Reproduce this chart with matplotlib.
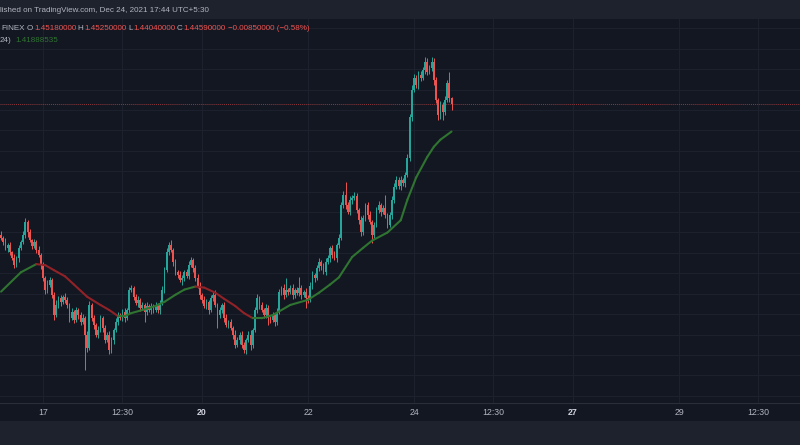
import numpy as np
import matplotlib
matplotlib.use('Agg')
import matplotlib.pyplot as plt
from matplotlib.collections import LineCollection

plt.rcParams['font.family'] = ['Liberation Sans', 'DejaVu Sans']

# ADA/USD 1h candles, Dec 16 05:00 -> Dec 24 17:00 (hours counted from Dec 17 00:00)
first_open = 1.318
closes = [
    1.315, 1.311, 1.305, 1.308, 1.301, 1.295, 1.288, 1.295, 1.305, 1.311,
    1.318, 1.330, 1.320, 1.313, 1.307, 1.311, 1.303, 1.298, 1.288, 1.275,
    1.264, 1.269, 1.273, 1.259, 1.239, 1.249, 1.256, 1.252, 1.257, 1.254,
    1.249, 1.236, 1.242, 1.234, 1.244, 1.239, 1.232, 1.236, 1.220, 1.207,
    1.249, 1.236, 1.229, 1.220, 1.224, 1.236, 1.226, 1.215, 1.220, 1.205,
    1.215, 1.224, 1.232, 1.239, 1.236, 1.242, 1.236, 1.244, 1.264, 1.266,
    1.257, 1.251, 1.254, 1.246, 1.249, 1.242, 1.248, 1.244, 1.248, 1.244,
    1.249, 1.244, 1.251, 1.264, 1.283, 1.301, 1.308, 1.303, 1.291, 1.281,
    1.278, 1.273, 1.275, 1.281, 1.277, 1.288, 1.293, 1.285, 1.275, 1.268,
    1.259, 1.254, 1.248, 1.252, 1.244, 1.256, 1.259, 1.249, 1.239, 1.244,
    1.249, 1.236, 1.229, 1.232, 1.226, 1.220, 1.210, 1.215, 1.220, 1.210,
    1.205, 1.215, 1.220, 1.210, 1.224, 1.244, 1.256, 1.249, 1.244, 1.239,
    1.246, 1.236, 1.234, 1.239, 1.232, 1.242, 1.262, 1.266, 1.259, 1.264,
    1.262, 1.266, 1.259, 1.264, 1.261, 1.266, 1.259, 1.262, 1.256, 1.254,
    1.268, 1.278, 1.275, 1.285, 1.291, 1.287, 1.281, 1.291, 1.295, 1.305,
    1.298, 1.295, 1.308, 1.315, 1.347, 1.357, 1.347, 1.340, 1.352, 1.354,
    1.356, 1.342, 1.332, 1.320, 1.334, 1.347, 1.337, 1.330, 1.318, 1.327,
    1.342, 1.347, 1.340, 1.344, 1.337, 1.327, 1.337, 1.352, 1.365, 1.371,
    1.366, 1.371, 1.368, 1.376, 1.393, 1.433, 1.460, 1.471, 1.465, 1.474,
    1.471, 1.479, 1.487, 1.477, 1.481, 1.487, 1.469, 1.450, 1.435, 1.445,
    1.438, 1.450, 1.466, 1.4518, 1.4459,
]
# upper / lower wick lengths beyond the body
wick_hi = [
    .003, .002, .004, .002, .003, .001, .004, .002, .003, .002,
    .003, .004, .002, .003, .001, .003, .002, .004, .002, .003,
    .002, .004, .003, .002, .003, .005, .002, .003, .002, .004,
    .003, .002, .004, .002, .003, .002, .003, .004, .002, .003,
    .004, .002, .003, .002, .004, .003, .002, .003, .002, .003,
    .003, .002, .004, .003, .002, .003, .004, .002, .003, .003,
    .002, .003, .004, .002, .003, .002, .004, .002, .003, .002,
    .003, .002, .003, .004, .003, .004, .003, .005, .002, .003,
    .002, .004, .003, .002, .003, .004, .003, .002, .003, .004,
    .003, .002, .004, .003, .002, .003, .004, .005, .002, .003,
    .002, .003, .004, .002, .003, .002, .004, .003, .002, .003,
    .003, .002, .003, .004, .002, .003, .004, .002, .003, .002,
    .004, .003, .002, .003, .002, .004, .003, .002, .004, .011,
    .002, .003, .004, .002, .003, .010, .003, .002, .004, .003,
    .003, .004, .002, .003, .004, .002, .003, .004, .003, .002,
    .003, .004, .002, .004, .003, .004, .012, .003, .004, .003,
    .004, .003, .002, .004, .003, .002, .003, .004, .002, .003,
    .003, .004, .002, .003, .013, .002, .003, .004, .003, .004,
    .003, .004, .002, .003, .004, .003, .005, .004, .003, .004,
    .004, .003, .005, .004, .003, .005, .004, .003, .002, .004,
    .003, .004, .003, .011, .0007,
]
wick_lo = [
    .002, .003, .002, .004, .003, .002, .003, .002, .004, .002,
    .002, .003, .004, .002, .003, .002, .003, .002, .004, .003,
    .004, .003, .002, .003, .005, .002, .003, .004, .002, .003,
    .003, .004, .002, .003, .002, .004, .003, .002, .035, .004,
    .002, .003, .004, .002, .003, .002, .004, .003, .002, .004,
    .003, .004, .002, .003, .002, .003, .004, .002, .003, .002,
    .003, .002, .004, .003, .002, .010, .003, .002, .004, .003,
    .002, .003, .004, .002, .003, .002, .003, .002, .004, .003,
    .003, .002, .004, .003, .002, .003, .002, .004, .003, .002,
    .004, .003, .002, .003, .004, .002, .003, .002, .013, .003,
    .003, .004, .002, .003, .002, .004, .003, .002, .004, .003,
    .003, .004, .002, .005, .003, .002, .003, .004, .002, .003,
    .003, .007, .003, .002, .004, .003, .002, .003, .004, .002,
    .003, .002, .004, .003, .002, .003, .004, .002, .010, .003,
    .002, .003, .004, .002, .003, .004, .002, .003, .002, .004,
    .003, .002, .004, .003, .002, .003, .004, .002, .003, .004,
    .002, .003, .004, .003, .002, .003, .004, .002, .008, .003,
    .002, .003, .004, .002, .003, .003, .002, .004, .003, .002,
    .003, .004, .002, .003, .002, .003, .004, .002, .003, .004,
    .003, .002, .004, .003, .002, .003, .004, .003, .005, .004,
    .008, .003, .002, .004, .0055,
]

# moving average, read at some candles
ma_idx = [0, 9, 16, 20, 24, 29, 33, 39, 45, 49, 53, 56, 59, 64, 70, 74, 79, 83,
          88, 92, 97, 101, 106, 110, 114, 118, 123, 131, 139, 144, 149, 153,
          159, 164, 168, 175, 181, 184, 188, 193, 196, 199, 204]
ma_vals = [1.262, 1.281, 1.289, 1.288, 1.283, 1.277, 1.269, 1.257, 1.249, 1.244,
           1.238, 1.238, 1.241, 1.244, 1.248, 1.252, 1.259, 1.264, 1.267, 1.266,
           1.261, 1.255, 1.248, 1.241, 1.236, 1.236, 1.239, 1.249, 1.254, 1.261,
           1.269, 1.276, 1.296, 1.305, 1.312, 1.320, 1.332, 1.352, 1.374, 1.394,
           1.404, 1.411, 1.4189]

tick_pos = [0, 36, 72, 120, 168, 204, 240, 288, 324]
tick_txt = ['17', '12:30', '20', '22', '24', '12:30', '27', '29', '12:30']
bold_ticks = ['20', '27']

UP = '#26a69a'
DOWN = '#ef5350'
BG = '#131722'
PANEL = '#1e222d'
GRID = '#1d212d'
TXT = '#b2b5be'
FS = 5.8

fig = plt.figure(figsize=(8, 4.45), dpi=100)
fig.patch.set_facecolor(PANEL)

# time axis strip
strip = fig.add_axes([0, 24 / 445, 1, 18 / 445])
strip.set_facecolor(BG)
strip.set_xticks([])
strip.set_yticks([])
for s in ['left', 'right', 'bottom']:
    strip.spines[s].set_visible(False)
strip.spines['top'].set_color('#2a2e39')
strip.spines['top'].set_linewidth(0.8)

ax = fig.add_axes([0, 42 / 445, 1, 384 / 445])
ax.set_zorder(2)
ax.set_facecolor(BG)

closes = np.array(closes)
opens = np.concatenate([[first_open], closes[:-1]])
hours = np.arange(len(closes)) - 19
highs = np.maximum(opens, closes) + np.array(wick_hi)
lows = np.minimum(opens, closes) - np.array(wick_lo)
up = closes >= opens
cols = np.where(up, UP, DOWN)

ax.vlines(hours, lows, highs, colors=cols, lw=0.7, zorder=3)
body_h = np.maximum(np.abs(closes - opens), 0.0008)
ax.bar(hours, body_h, bottom=np.minimum(opens, closes), width=0.8,
       color=cols, linewidth=0, zorder=4)

# MA line coloured by slope
mx = np.array(ma_idx) - 19
my = np.array(ma_vals)
pts = np.column_stack([mx, my]).reshape(-1, 1, 2)
segs = np.concatenate([pts[:-1], pts[1:]], axis=1)
seg_cols = ['#2f7430' if my[k + 1] >= my[k] else '#912227' for k in range(len(my) - 1)]
ax.add_collection(LineCollection(segs, colors=seg_cols, linewidths=1.5, zorder=5,
                                 capstyle='round', joinstyle='round'))

# last price line
ax.axhline(closes[-1], color=DOWN, lw=0.7, ls=(0, (1, 1)), alpha=0.55, zorder=2)

ax.set_xlim(-19.47, 342.8)
ax.set_ylim(1.1529, 1.5292)
ax.set_yticks(np.arange(1.16, 1.521, 0.02))
ax.set_xticks(tick_pos)
ax.set_xticklabels(tick_txt)
ax.grid(True, color=GRID, lw=0.8, zorder=0)
ax.set_axisbelow(True)
ax.tick_params(axis='both', length=0, labelleft=False, labelsize=6.3,
               colors=TXT, pad=3.5)
for lab in ax.get_xticklabels():
    if lab.get_text() in bold_ticks:
        lab.set_color('#d1d4dc')
        lab.set_fontweight('bold')
for s in ax.spines.values():
    s.set_visible(False)


def fpos(x, y):
    return x / 800, 1 - y / 445


# header and legend texts
fig.text(*fpos(0, 10), 'lished on TradingView.com, Dec 24, 2021 17:44 UTC+5:30',
         color=TXT, fontsize=FS, va='center', ha='left')

legend = [(1, 'FINEX', TXT), (27, 'O', TXT), (32, '1.45180000', DOWN),
          (77, 'H', TXT), (82, '1.45250000', DOWN), (128, 'L', TXT),
          (133, '1.44040000', DOWN), (177, 'C', TXT), (182, '1.44590000', DOWN),
          (228, '\u22120.00850000 (\u22120.58%)', DOWN)]
renderer = fig.canvas.get_renderer()
right = -10
for x, t, c in legend:
    x = max(x, right + 1)
    txt = fig.text(*fpos(x, 29), t, color=c, fontsize=FS, va='center', ha='left')
    right = txt.get_window_extent(renderer).x1
fig.text(*fpos(0, 40), '24)', color=TXT, fontsize=FS, va='center', ha='left')
fig.text(*fpos(15, 40), '1.41888535', color='#2f7430', fontsize=FS,
         va='center', ha='left')

fig.savefig('out.png', dpi=100, facecolor=fig.get_facecolor())
